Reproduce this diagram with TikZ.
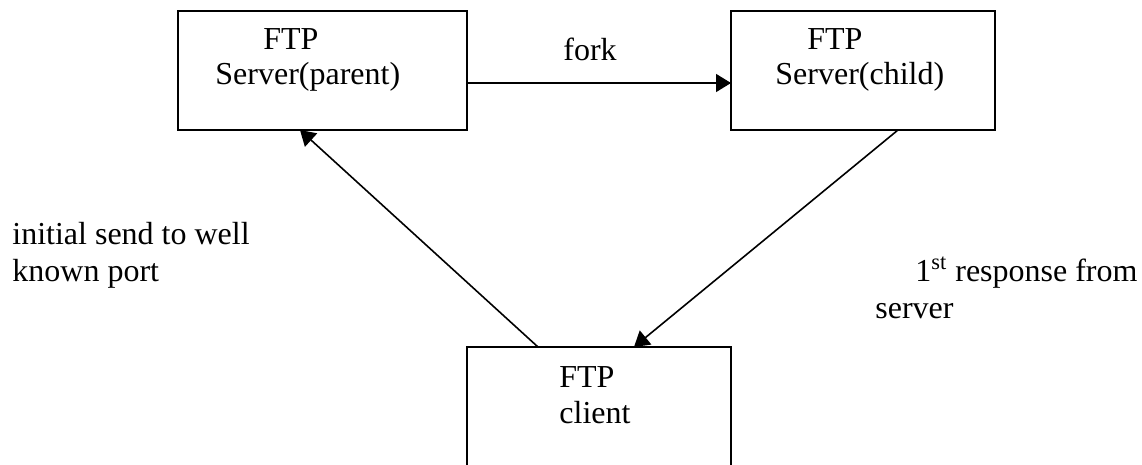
\documentclass[tikz,border=0pt]{standalone}
\usepackage{fontspec}
\setmainfont{Liberation Serif}
\usetikzlibrary{arrows.meta}

\tikzset{
	box/.style={draw, line width=1pt, inner sep=0pt, outer sep=0pt},
	txt/.style={anchor=base west, inner sep=0pt, font=\fontsize{16}{18}\selectfont},
	flow/.style={line width=0.8pt, -{Triangle[length=7.5pt,width=9pt]}}
}

\begin{document}
\begin{tikzpicture}[x=0.5pt,y=-0.5pt]
	\useasboundingbox (0,0) rectangle (1142,465);

	% the three processes
	\node[box, minimum width=144.5pt, minimum height=59.5pt] (parent) at (322.5,70.5) {};
	\node[box, minimum width=132pt, minimum height=59.5pt] (child) at (863,70.5) {};
	\node[box, minimum width=132pt, minimum height=62pt] (client) at (599,409) {};

	\node[txt] (parentA) at (263,50) {FTP};
	\node[txt] (parentB) at (215,85) {Server(parent)};
	\node[txt] (childA) at (807,50) {FTP};
	\node[txt] (childB) at (775,85) {Server(child)};
	\node[txt] (clientA) at (559,387) {FTP};
	\node[txt] (clientB) at (559,423) {client};

	% messages
	\draw[flow] ([yshift=-6.25pt]parent.east) -- ([yshift=-6.25pt]child.west);
	\draw[flow] ([xshift=35.5pt]client.north west) -- ([xshift=61pt]parent.south west);
	\draw[flow] ([xshift=83.5pt]child.south west) -- ([xshift=83.5pt]client.north west);

	\node[txt] (fork) at (563,61) {fork};
	\node[txt] (sendA) at (12,245) {initial send to well};
	\node[txt] (sendB) at (12,282) {known port};
	\node[txt] (respA) at (915,282) {1\textsuperscript{st} response from};
	\node[txt] (respB) at (875,318) {server};
\end{tikzpicture}
\end{document}
